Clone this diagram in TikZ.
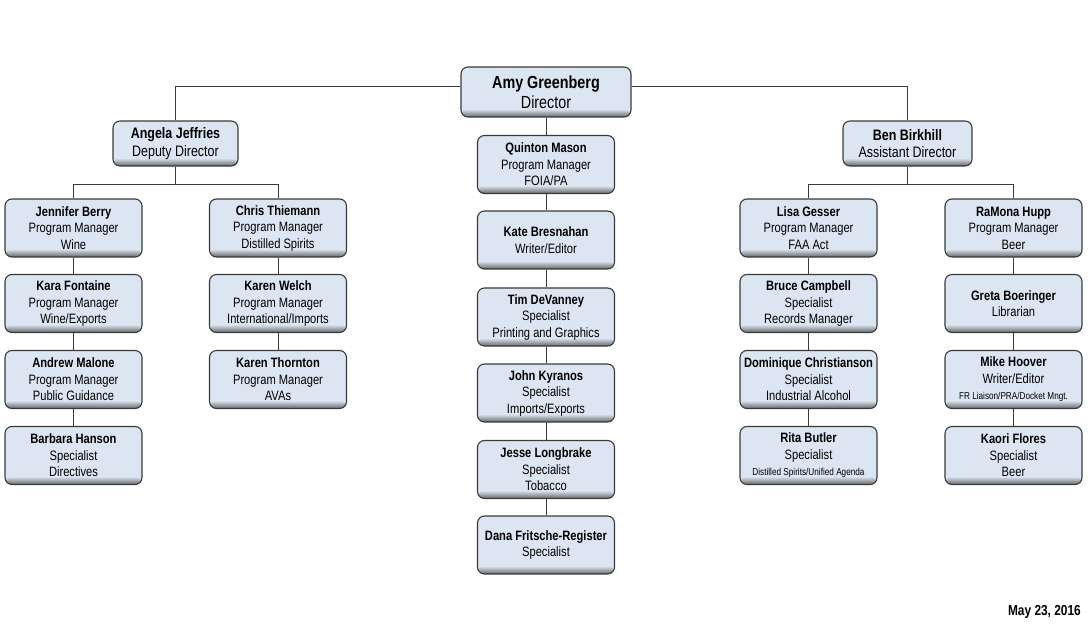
\documentclass[tikz,border=0pt]{standalone}
\usepackage{fontspec}
\setmainfont{Liberation Sans}[FakeStretch=0.82]
\usetikzlibrary{calc}
\definecolor{boxfill}{HTML}{DCE6F2}
\definecolor{edgecol}{HTML}{3A3A3A}
\tikzset{
  card/.style={draw=edgecol, line width=1.1pt, rounded corners=7pt,
    minimum width=137pt, minimum height=58pt, align=center, inner sep=0pt,
    font=\fontsize{13.6}{16.5}\selectfont,
    path picture={
      \fill[boxfill] (path picture bounding box.south west) rectangle (path picture bounding box.north east);
      \shade[top color=boxfill, bottom color=black!60] (path picture bounding box.south west) rectangle ($(path picture bounding box.south east)+(0,8pt)$);
    }},
  head/.style={card, minimum width=#1, minimum height=45pt, font=\fontsize{15.2}{17.5}\selectfont},
  wire/.style={draw=edgecol, line width=0.9pt},
}
\newcommand{\sm}[1]{{\fontsize{10}{11}\selectfont #1}}
\begin{document}
\begin{tikzpicture}[x=1pt,y=-1pt]
\useasboundingbox (0,0) rectangle (1090,626);
% top level
\node[card, minimum width=170pt, minimum height=50pt, font=\fontsize{17.5}{19.5}\selectfont] (dir) at (546,92) {\textbf{Amy Greenberg}\\Director};
\node[head=125pt] (ang) at (175.5,143.5) {\textbf{Angela Jeffries}\\Deputy Director};
\node[head=129pt] (ben) at (907.5,143.5) {\textbf{Ben Birkhill}\\Assistant Director};
% left columns
\node[card] (jen) at (73.5,228) {\textbf{Jennifer Berry}\\Program Manager\\Wine};
\node[card] (kara) at (73.5,303.5) {\textbf{Kara Fontaine}\\Program Manager\\Wine/Exports};
\node[card] (andr) at (73.5,379.5) {\textbf{Andrew Malone}\\Program Manager\\Public Guidance};
\node[card] (barb) at (73.5,455.5) {\textbf{Barbara Hanson}\\Specialist\\Directives};
\node[card] (chris) at (278,228) {\textbf{Chris Thiemann}\\Program Manager\\Distilled Spirits};
\node[card] (kwel) at (278,303.5) {\textbf{Karen Welch}\\Program Manager\\International/Imports};
\node[card] (kthn) at (278,379.5) {\textbf{Karen Thornton}\\Program Manager\\AVAs};
% center column
\node[card] (quin) at (546,164.5) {\textbf{Quinton Mason}\\Program Manager\\FOIA/PA};
\node[card] (kate) at (546,240) {\textbf{Kate Bresnahan}\\Writer/Editor};
\node[card] (tim) at (546,317) {\textbf{Tim DeVanney}\\Specialist\\Printing and Graphics};
\node[card] (john) at (546,393) {\textbf{John Kyranos}\\Specialist\\Imports/Exports};
\node[card] (jess) at (546,469.5) {\textbf{Jesse Longbrake}\\Specialist\\Tobacco};
\node[card] (dana) at (546,545) {\textbf{Dana Fritsche-Register}\\Specialist};
% right columns
\node[card] (lisa) at (808.5,228) {\textbf{Lisa Gesser}\\Program Manager\\FAA Act};
\node[card] (bruc) at (808.5,303.5) {\textbf{Bruce Campbell}\\Specialist\\Records Manager};
\node[card] (domi) at (808.5,379.5) {\textbf{Dominique Christianson}\\Specialist\\Industrial Alcohol};
\node[card] (rita) at (808.5,455.5) {\textbf{Rita Butler}\\Specialist\\\sm{Distilled Spirits/Unified Agenda}};
\node[card] (ramo) at (1013.5,228) {\textbf{RaMona Hupp}\\Program Manager\\Beer};
\node[card] (gret) at (1013.5,303.5) {\textbf{Greta Boeringer}\\Librarian};
\node[card] (mike) at (1013.5,379.5) {\textbf{Mike Hoover}\\Writer/Editor\\\sm{FR Liaison/PRA/Docket Mngt.}};
\node[card] (kaor) at (1013.5,455.5) {\textbf{Kaori Flores}\\Specialist\\Beer};
% date
\node[anchor=east, inner sep=0pt, font=\bfseries\fontsize{14.5}{16}\selectfont] (date) at (1081,612) {May 23, 2016};
% connectors
\coordinate (lbar) at (175.5,184);
\coordinate (rbar) at (907.5,184);
\draw[wire] ([yshift=6pt]dir.west) -| (ang.north);
\draw[wire] ([yshift=6pt]dir.east) -| (ben.north);
\draw[wire] (ang.south) -- (lbar);
\draw[wire] (jen.north) -- (jen.north |- lbar) -- (chris.north |- lbar) -- (chris.north);
\draw[wire] (ben.south) -- (rbar);
\draw[wire] (lisa.north) -- (lisa.north |- rbar) -- (ramo.north |- rbar) -- (ramo.north);
\draw[wire] (jen) -- (kara); \draw[wire] (kara) -- (andr); \draw[wire] (andr) -- (barb);
\draw[wire] (chris) -- (kwel); \draw[wire] (kwel) -- (kthn);
\draw[wire] (dir) -- (quin); \draw[wire] (quin) -- (kate); \draw[wire] (kate) -- (tim);
\draw[wire] (tim) -- (john); \draw[wire] (john) -- (jess); \draw[wire] (jess) -- (dana);
\draw[wire] (lisa) -- (bruc); \draw[wire] (bruc) -- (domi); \draw[wire] (domi) -- (rita);
\draw[wire] (ramo) -- (gret); \draw[wire] (gret) -- (mike); \draw[wire] (mike) -- (kaor);
\end{tikzpicture}
\end{document}
